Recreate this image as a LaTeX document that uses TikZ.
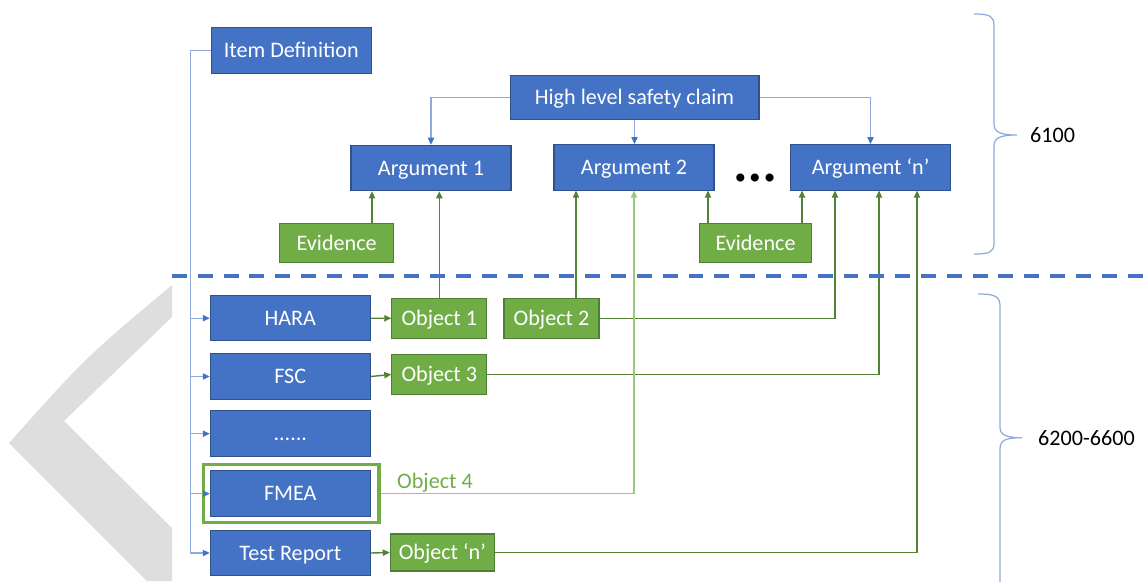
\documentclass[tikz,border=0pt]{standalone}
\usepackage{fontspec}
\setmainfont{Carlito}
\newfontfamily\dotfont{DejaVu Sans}
\usetikzlibrary{arrows.meta}
\definecolor{boxblue}{HTML}{4472C4}
\definecolor{boxedge}{HTML}{2F528F}
\definecolor{boxgreen}{HTML}{70AD47}
\definecolor{greenedge}{HTML}{507E32}
\definecolor{linkblue}{HTML}{8FAADC}
\definecolor{linkgreen}{HTML}{548235}
\definecolor{lightgreen}{HTML}{9BCB7A}
\definecolor{shadegrey}{HTML}{DEDEDE}

\tikzset{
  bluebox/.style={draw=boxedge, fill=boxblue, text=white, line width=0.6pt, inner sep=0pt,
    text height=8pt, text depth=0pt, minimum width=3.2cm, minimum height=0.91cm},
  greenbox/.style={draw=greenedge, fill=boxgreen, text=white, line width=0.6pt, inner sep=0pt,
    text height=8pt, text depth=0pt, minimum width=1.9cm, minimum height=0.79cm},
  blink/.style={draw=linkblue, line width=0.7pt, -{Triangle[length=4pt,width=3.6pt,color=boxblue]}},
  glink/.style={draw=linkgreen, line width=0.8pt, -{Triangle[length=4pt,width=3.6pt]}},
  bracket/.style={draw=linkblue, line width=0.7pt},
}

\begin{document}
\begin{tikzpicture}[x=0.02cm, y=-0.02cm, font=\fontsize{12.6}{14}\selectfont]
\useasboundingbox (0,0) rectangle (1145,581);
% grey mark on the left
\fill[shadegrey] (172,285) .. controls (85,358) .. (9,443) -- (147,581) -- (172,581)
  -- (172,528) -- (64,421) -- (172,317) -- cycle;

% 6100 part
\node[bluebox] (item) at (291.3,50.5) {Item Definition};
\node[bluebox, minimum width=4.98cm, minimum height=0.87cm] (claim) at (634.5,97.5) {High level safety claim};
\node[bluebox] (arg1) at (431,168) {Argument 1};
\node[bluebox] (arg2) at (634,167.3) {Argument 2};
\node[bluebox] (argn) at (870.5,167.3) {Argument ‘n’};
\node[font=\dotfont\bfseries\fontsize{13}{13}\selectfont] (more) at (755,180) {•••};
\node[greenbox, minimum width=2.27cm] (ev1) at (336.7,243) {Evidence};
\node[greenbox, minimum width=2.25cm] (ev2) at (755.5,243) {Evidence};

% 6200-6600 part
\node[draw=boxgreen, line width=2pt, minimum width=3.51cm, minimum height=1.16cm] (fmeabox) at (291.3,493.5) {};
\node[bluebox] (hara) at (290.3,318.2) {HARA};
\node[bluebox] (fsc) at (290.3,376.5) {FSC};
\node[bluebox] (etc) at (290.3,433.7) {......};
\node[bluebox] (fmea) at (290.3,493.7) {FMEA};
\node[bluebox] (test) at (290.3,553) {Test Report};
\node[greenbox] (obj1) at (439.3,318.3) {Object 1};
\node[greenbox] (obj2) at (551.5,318.3) {Object 2};
\node[greenbox] (obj3) at (439.3,374.5) {Object 3};
\node[greenbox, minimum width=2.08cm, minimum height=0.74cm] (objn) at (442.3,552.5) {Object ‘n’};
\node[text=boxgreen, anchor=base west] (obj4) at (391,488) {Object 4};

% item definition feeds every work product
\draw[blink] (item.west) -- ++(-20,0) coordinate (trunk) |- (test.west);
\foreach \b in {hara,fsc,etc,fmea}
  \draw[blink] (trunk |- \b.west) -- (\b.west);

% claim split into arguments
\draw[blink] (claim.west) -| (arg1.north);
\draw[blink] (claim.south) -- (claim.south |- arg2.north);
\draw[blink] (claim.east) -| (argn.north);

% work products give objects
\draw[glink] (hara.east) -- (obj1.west);
\draw[glink] (fsc.east) -- (obj3.west);
\draw[glink] (test.east) -- (objn.west);

% evidence and objects back the arguments
\draw[glink] (ev1.north -| 372,0) -- (arg1.south -| 372,0);
\draw[glink] (obj1.north) -- (obj1.north |- arg1.south);
\draw[glink] (obj2.north -| 576,0) -- (arg2.south -| 576,0);
\draw[glink] (ev2.north -| 708,0) -- (arg2.south -| 708,0);
\draw[glink] (ev2.north -| 802,0) -- (argn.south -| 802,0);
\draw[glink] (obj2.east) -| (argn.south -| 835,0);
\draw[glink] (obj3.east) -| (argn.south -| 879,0);
\draw[glink] (objn.east) -| (argn.south -| 917,0);
\draw[glink, draw=lightgreen] (fmeabox.east) -| (arg2.south);

% separator
\draw[boxblue, line width=2.4pt, dash pattern=on 8.5pt off 6.2pt] (172,275.7) -- (1145,275.7);

% braces
\draw[bracket] (974,14) .. controls (990,14) and (994,16) .. (994,26) -- (994,124)
  .. controls (994,132) and (1000,135) .. (1017,135) .. controls (1000,135) and (994,138) .. (994,146)
  -- (994,243) .. controls (994,252) and (990,254) .. (974,254);
\draw[bracket] (978,294) .. controls (994,294) and (1000,296) .. (1000,306) -- (1000,427)
  .. controls (1000,435) and (1006,437.7) .. (1022,437.7) .. controls (1006,437.7) and (1000,440) .. (1000,449)
  -- (1000,590) .. controls (1000,599) and (994,601) .. (978,601);
\node[anchor=west] (sec1) at (1024,135) {6100};
\node[anchor=west] (sec2) at (1032,437.7) {6200-6600};
\end{tikzpicture}
\end{document}
